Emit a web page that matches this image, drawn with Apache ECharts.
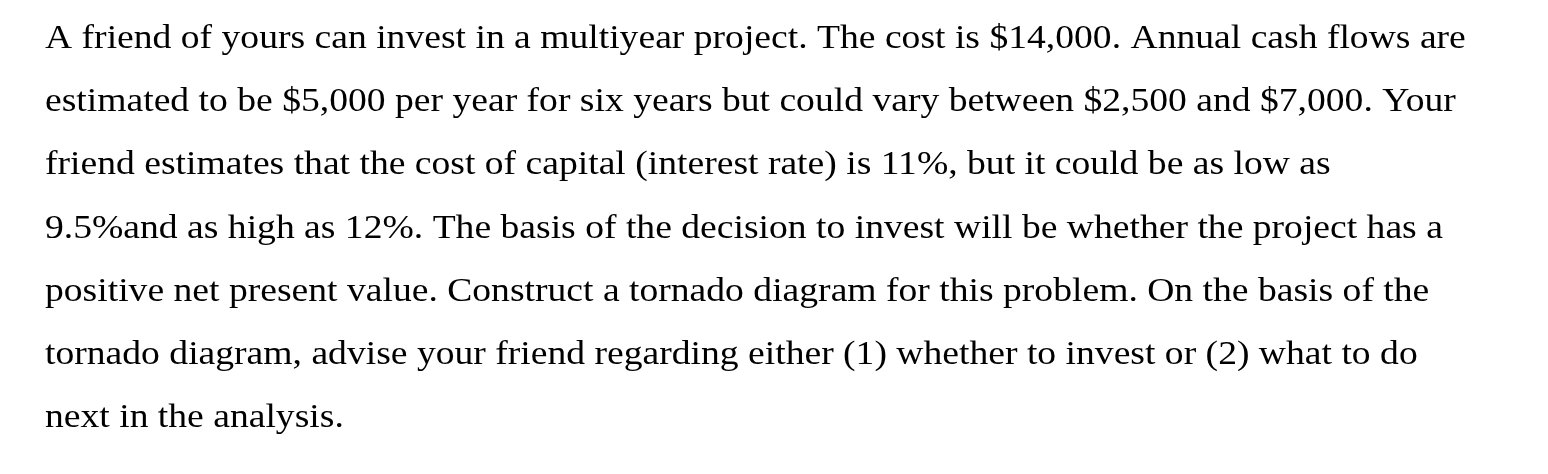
<!DOCTYPE html>
<html><head><meta charset="utf-8">
<script src="https://cdn.jsdelivr.net/npm/echarts@6/dist/echarts.min.js"></script>
<style>html,body{margin:0;padding:0;background:#fff}#c{width:1548px;height:474px}</style>
</head><body><div id="c"></div>
<script>
const lines = [
  "A friend of yours can invest in a multiyear project. The cost is $14,000. Annual cash flows are",
  "estimated to be $5,000 per year for six years but could vary between $2,500 and $7,000. Your",
  "friend estimates that the cost of capital (interest rate) is 11%, but it could be as low as",
  "9.5%and as high as 12%. The basis of the decision to invest will be whether the project has a",
  "positive net present value. Construct a tornado diagram for this problem. On the basis of the",
  "tornado diagram, advise your friend regarding either (1) whether to invest or (2) what to do",
  "next in the analysis."
];
const chart = echarts.init(document.getElementById('c'));
chart.setOption({
  backgroundColor: '#fff',
  graphic: lines.map((t, i) => ({
    type: 'text', x: 45, y: 39 + i * 63.3, scaleX: 1.14, originX: 0, originY: 0,
    style: { x: 0, y: 0, text: t, fill: '#000', font: '33px "Liberation Serif"', verticalAlign: 'middle', align: 'left' }
  }))
});
</script></body></html>
